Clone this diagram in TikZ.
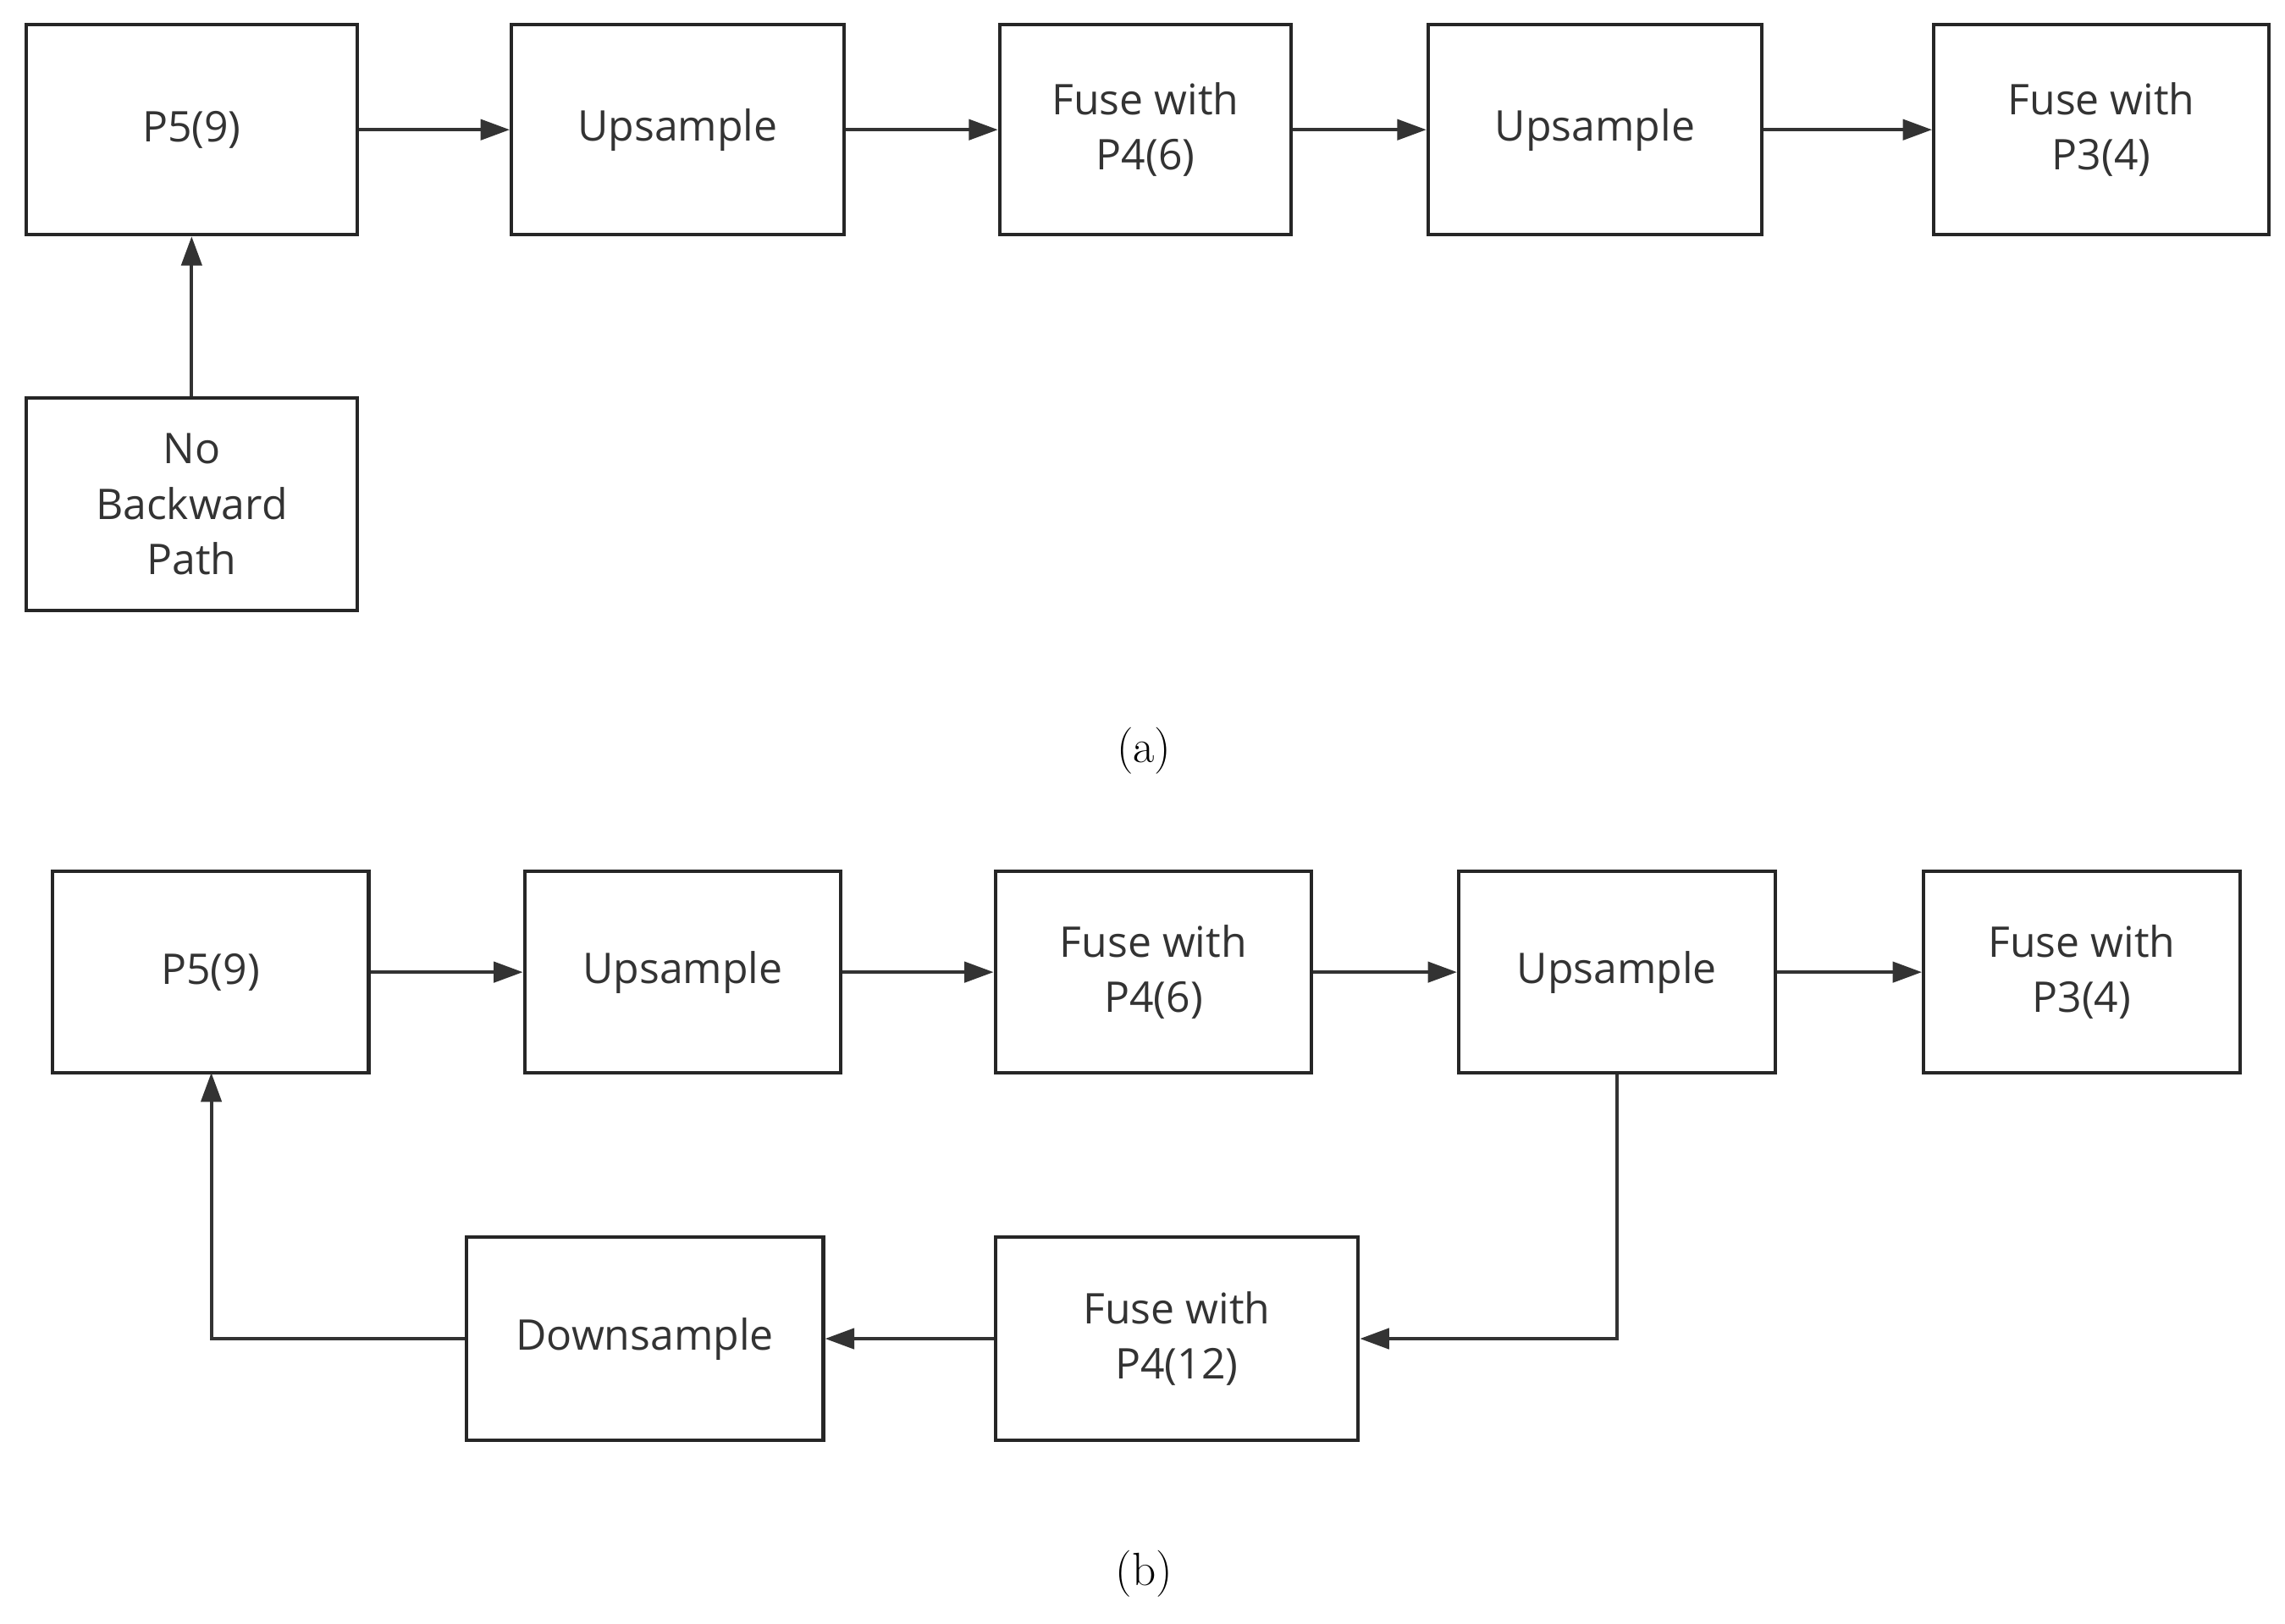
\documentclass[tikz,border=0pt]{standalone}
\usepackage{fontspec}
\setmainfont{Open Sans}
\newfontfamily\capfont{Latin Modern Roman}
\usetikzlibrary{arrows.meta}
\begin{document}
\begin{tikzpicture}[x=1pt,y=-1pt,
  box/.style={draw=black!85,line width=2.4pt,inner sep=0pt,align=center,font=\fontsize{29}{38}\selectfont,text=black!80},
  arr/.style={draw=black!80,line width=2.4pt,-{Triangle[length=20pt,width=14pt]}},
  captxt/.style={font=\capfont\fontsize{32}{38}\selectfont}]
\useasboundingbox (0,0) rectangle (1568,1114);
\newcommand\bx[6]{\node[box,minimum width=#3-#2,minimum height=#5-#4] (#1) at ({(#2+#3)/2},{(#4+#5)/2}) {#6};}
% (a)
\bx{a1}{18}{245}{17}{161}{P5(9)}
\bx{a2}{351}{579}{17}{161}{Upsample}
\bx{a3}{686}{886}{17}{161}{Fuse with\\P4(6)}
\bx{a4}{980}{1209}{17}{161}{Upsample}
\bx{a5}{1327}{1557}{17}{161}{Fuse with\\P3(4)}
\bx{a0}{18}{245}{273}{419}{No\\Backward\\Path}
\draw[arr] (a1) -- (a2);
\draw[arr] (a2) -- (a3);
\draw[arr] (a3) -- (a4);
\draw[arr] (a4) -- (a5);
\draw[arr] (a0) -- (a1);
\node[captxt] (ca) at (785,515) {(a)};
% (b)
\bx{b1}{36}{253}{598}{736}{P5(9)}
\bx{b2}{360}{577}{598}{736}{Upsample}
\bx{b3}{683}{900}{598}{736}{Fuse with\\P4(6)}
\bx{b4}{1001}{1218}{598}{736}{Upsample}
\bx{b5}{1320}{1537}{598}{736}{Fuse with\\P3(4)}
\bx{b7}{320}{565}{849}{988}{Downsample}
\bx{b6}{683}{932}{849}{988}{Fuse with\\P4(12)}
\draw[arr] (b1) -- (b2);
\draw[arr] (b2) -- (b3);
\draw[arr] (b3) -- (b4);
\draw[arr] (b4) -- (b5);
\draw[arr] (b4.south) |- (b6.east);
\draw[arr] (b6) -- (b7);
\coordinate (b1in) at (145,736);
\draw[arr] (b7.west) -| (b1in);
\node[captxt] (cb) at (785,1080) {(b)};
\end{tikzpicture}
\end{document}
